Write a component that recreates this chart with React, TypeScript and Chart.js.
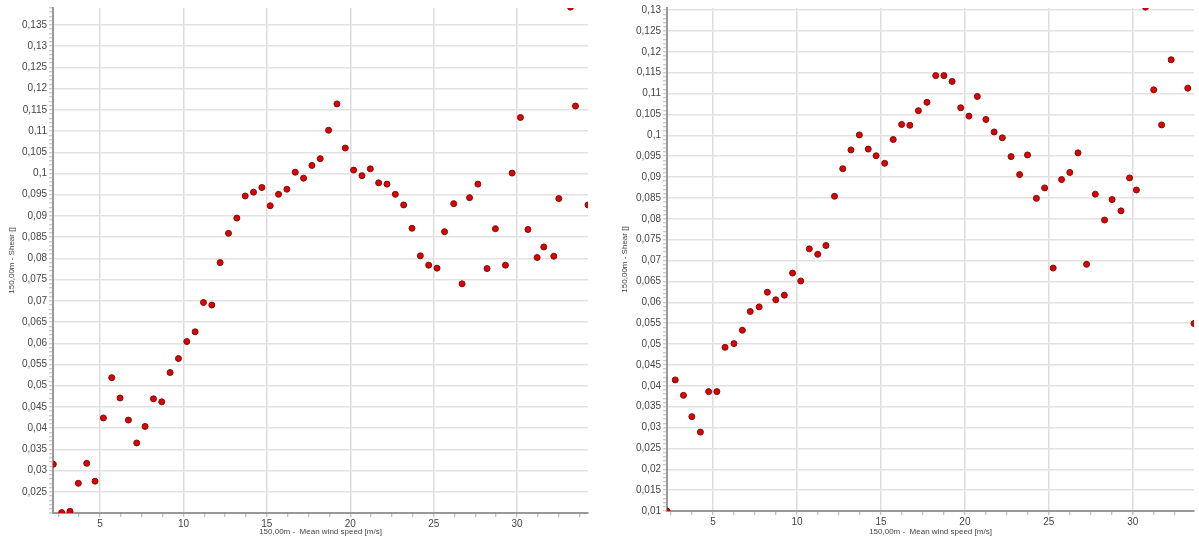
import React, { useEffect, useRef } from "react";
import { Chart, registerables } from "chart.js";

Chart.register(...registerables);

// ---- Left panel data ----
const leftX = [2.2, 2.7, 3.2, 3.7, 4.2, 4.7, 5.2, 5.7, 6.2, 6.7, 7.2, 7.7, 8.2, 8.7, 9.2, 9.7, 10.2, 10.7, 11.2, 11.7,
  12.2, 12.7, 13.2, 13.7, 14.2, 14.7, 15.2, 15.7, 16.2, 16.7, 17.2, 17.7, 18.2, 18.7, 19.2, 19.7, 20.2, 20.7, 21.2, 21.7,
  22.2, 22.7, 23.2, 23.7, 24.2, 24.7, 25.2, 25.65, 26.2, 26.7, 27.15, 27.65, 28.2, 28.7, 29.3, 29.7, 30.2, 30.65, 31.2,
  31.6, 32.2, 32.5, 33.2, 33.5, 34.25];
const leftShear = [0.0315, 0.0201, 0.0204, 0.027, 0.0317, 0.0275, 0.0424, 0.0519, 0.0471, 0.0419, 0.0365, 0.0404, 0.0469,
  0.0462, 0.0531, 0.0564, 0.0604, 0.0627, 0.0696, 0.069,
  0.079, 0.0859, 0.0895, 0.0947, 0.0956, 0.0967, 0.0924, 0.0951, 0.0963, 0.1003, 0.0989, 0.1019, 0.1035, 0.1102, 0.1164,
  0.106, 0.1008, 0.0995, 0.1011, 0.0978, 0.0975, 0.0951, 0.0926, 0.0871, 0.0806, 0.0784, 0.0777,
  0.0863, 0.0929, 0.074, 0.0943, 0.0975, 0.0776, 0.087, 0.0784, 0.1001, 0.1132, 0.0868, 0.0802, 0.0827, 0.0805, 0.0941,
  0.1392, 0.1159, 0.0926];

// ---- Right panel data ----
const rightX = [2.25, 2.74, 3.23, 3.73, 4.24, 4.73, 5.22, 5.71, 6.24, 6.74, 7.21, 7.74, 8.23, 8.73, 9.24, 9.73, 10.22,
  10.73, 11.23, 11.72, 12.23, 12.72, 13.21, 13.71, 14.24, 14.71, 15.22, 15.73, 16.23, 16.72, 17.23, 17.74, 18.26, 18.75,
  19.24, 19.75, 20.24, 20.74, 21.25, 21.74, 22.23, 22.75, 23.26, 23.73, 24.26, 24.75, 25.26, 25.76, 26.25, 26.74, 27.25,
  27.77, 28.32, 28.77, 29.3, 29.81, 30.22, 30.76, 31.25, 31.72, 32.29, 33.28, 33.65];
const rightShear = [0.01, 0.0414, 0.0377, 0.0326, 0.0289, 0.0386, 0.0386, 0.0492, 0.0501, 0.0533, 0.0578, 0.0589, 0.0624,
  0.0606, 0.0617, 0.067, 0.0651, 0.0728, 0.0715, 0.0736, 0.0854, 0.092, 0.0965, 0.1001, 0.0967, 0.0951, 0.0933, 0.099,
  0.1026, 0.1024, 0.1059, 0.1079, 0.1143, 0.1143, 0.1129, 0.1066, 0.1046, 0.1093, 0.1038, 0.1008, 0.0994, 0.0949, 0.0906,
  0.0953, 0.0849, 0.0874, 0.0682, 0.0894, 0.0911, 0.0958, 0.0691, 0.0859, 0.0797, 0.0846, 0.0819, 0.0898, 0.0869, 0.1307,
  0.1109, 0.1025, 0.1181, 0.1113, 0.0549];

const xAxisTitle = "150,00m -  Mean wind speed [m/s]";
const yAxisTitle = "150,00m - Shear []";

const isMultiple = (v: number, step: number) => Math.abs(v / step - Math.round(v / step)) < 1e-6;
const fmt = (v: number) => String(Number(v.toFixed(4))).replace(".", ",");

type PanelProps = {
  xs: number[];
  ys: number[];
  left: number;
  width: number;
  xMin: number;
  xMax: number;
  yMin: number;
  yMax: number;
  yAxisWidth: number;
  xAxisHeight: number;
  padTop: number;
  padRight: number;
  yTitlePad: number;
  hideMinLabel: boolean;
};

function Panel(p: PanelProps) {
  const ref = useRef<HTMLCanvasElement | null>(null);
  useEffect(() => {
    if (!ref.current) return;
    const font = "'Liberation Sans', Arial, sans-serif";
    const chart = new Chart(ref.current, {
      type: "scatter",
      data: {
        datasets: [
          {
            data: p.xs.map((x, i) => ({ x, y: p.ys[i] })),
            backgroundColor: "#e00000",
            borderColor: "#7a1010",
            borderWidth: 1,
            pointRadius: 3,
            clip: 0,
          },
        ],
      },
      options: {
        animation: false,
        responsive: false,
        layout: { padding: { left: 0, top: p.padTop, right: p.padRight, bottom: 0 } },
        plugins: { legend: { display: false }, tooltip: { enabled: false } },
        scales: {
          x: {
            type: "linear",
            min: p.xMin,
            max: p.xMax,
            afterFit: (s: any) => {
              s.height = p.xAxisHeight;
            },
            ticks: {
              stepSize: 1.25,
              autoSkip: false,
              includeBounds: false,
              maxRotation: 0,
              padding: 1,
              color: "#444",
              font: { family: font, size: 10 },
              callback: (v: any) => (isMultiple(Number(v), 5) ? String(v) : ""),
            },
            grid: {
              color: (ctx: any) => (ctx.tick && isMultiple(ctx.tick.value, 5) ? "#dcdcdc" : "rgba(0,0,0,0)"),
              lineWidth: 1.5,
              tickColor: "#aaa",
              tickWidth: 1,
              tickLength: 4,
            },
            border: { color: "#999", width: 2 },
            title: {
              display: true,
              text: xAxisTitle,
              color: "#444",
              font: { family: font, size: 8 },
              padding: { top: 0, bottom: 0 },
            },
          },
          y: {
            type: "linear",
            min: p.yMin,
            max: p.yMax,
            afterFit: (s: any) => {
              s.width = p.yAxisWidth;
            },
            ticks: {
              stepSize: 0.001,
              autoSkip: false,
              includeBounds: false,
              padding: 2,
              color: "#444",
              font: { family: font, size: 10 },
              callback: (v: any) => {
                const n = Number(v);
                if (p.hideMinLabel && Math.abs(n - p.yMin) < 1e-9) return "";
                return isMultiple(n, 0.005) ? fmt(n) : "";
              },
            },
            grid: {
              color: (ctx: any) => (ctx.tick && isMultiple(ctx.tick.value, 0.005) ? "#e2e2e2" : "rgba(0,0,0,0)"),
              lineWidth: 1.5,
              tickColor: "#bbb",
              tickWidth: 1,
              tickLength: 4,
            },
            border: { color: "#999", width: 2 },
            title: {
              display: true,
              text: yAxisTitle,
              color: "#444",
              font: { family: font, size: 8 },
              padding: { top: p.yTitlePad, bottom: 0 },
            },
          },
        },
      },
    } as any);
    return () => chart.destroy();
  }, []);
  return (
    <canvas
      ref={ref}
      width={p.width}
      height={537}
      style={{ position: "absolute", left: p.left, top: 0, width: p.width, height: 537 }}
    />
  );
}

export default function App() {
  return (
    <div style={{ position: "fixed", left: 0, top: 0, width: 1199, height: 537, background: "#fff" }}>
      <Panel
        xs={leftX}
        ys={leftShear}
        left={0}
        width={595}
        xMin={2.18}
        xMax={34.25}
        yMin={0.02}
        yMax={0.139}
        yAxisWidth={53}
        xAxisHeight={24}
        padTop={8}
        padRight={7}
        yTitlePad={7}
        hideMinLabel={true}
      />
      <Panel
        xs={rightX}
        ys={rightShear}
        left={598}
        width={601}
        xMin={2.25}
        xMax={33.65}
        yMin={0.01}
        yMax={0.1305}
        yAxisWidth={69}
        xAxisHeight={26}
        padTop={8}
        padRight={1}
        yTitlePad={22}
        hideMinLabel={false}
      />
    </div>
  );
}
